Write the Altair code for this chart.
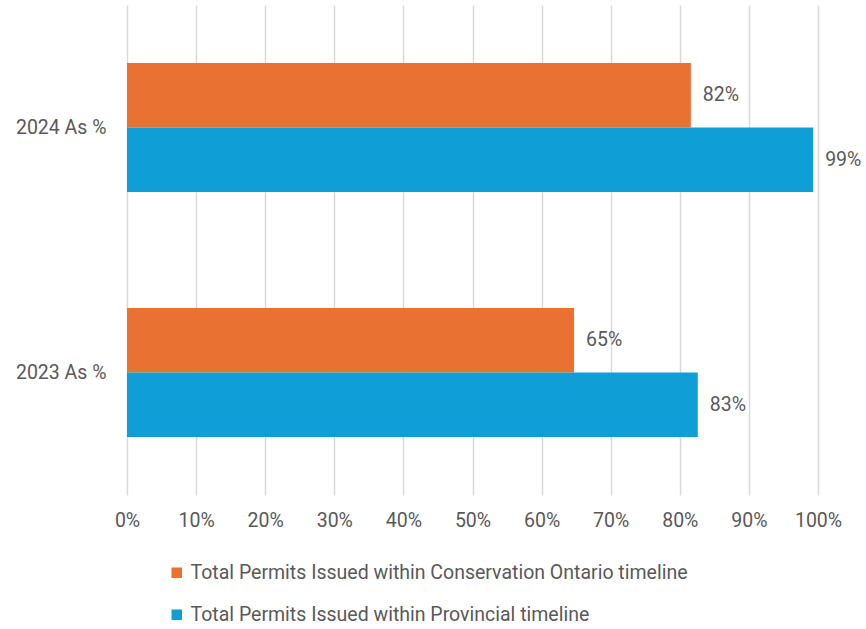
import altair as alt
import pandas as pd

categories = ["2024 As %", "2023 As %"]
series = [
    "Total Permits Issued within Conservation Ontario timeline",
    "Total Permits Issued within Provincial timeline",
]
conservation = [0.816, 0.647]
provincial = [0.993, 0.826]
colors = ["#E97132", "#0F9ED5"]
tick_values = [0.0, 0.1, 0.2, 0.3, 0.4, 0.5, 0.6, 0.7, 0.8, 0.9, 1.0]

rows = []
for i, c in enumerate(categories):
    rows.append({"cat": c, "series": series[0], "value": conservation[i]})
    rows.append({"cat": c, "series": series[1], "value": provincial[i]})
df = pd.DataFrame(rows)

font = "Roboto"
grey = "#595959"
fs = 19.5

y = alt.Y(
    "cat:N",
    sort=categories,
    scale=alt.Scale(paddingInner=0.473, paddingOuter=0.2365),
    axis=alt.Axis(title=None, labelFontSize=fs, labelColor=grey, labelPadding=21,
                  ticks=False, domain=False, grid=False, labelFont=font),
)
yoff = alt.YOffset("series:N", sort=series, scale=alt.Scale(paddingInner=0, paddingOuter=0))
x = alt.X(
    "value:Q",
    scale=alt.Scale(domain=[0, 1], nice=False),
    axis=alt.Axis(values=tick_values, format=".0%", title=None, grid=True,
                  gridColor="#d9d9d9", gridWidth=1.5, domain=False, ticks=False,
                  labelFlush=False, labelBound=False, labelOverlap=False,
                  labelFontSize=fs, labelColor=grey, labelPadding=16, labelFont=font),
)

bars = alt.Chart(df).mark_bar().encode(
    x=x,
    y=y,
    yOffset=yoff,
    color=alt.Color(
        "series:N",
        sort=series,
        scale=alt.Scale(domain=series, range=colors),
        legend=alt.Legend(orient="none", legendX=40, legendY=558, direction="vertical",
                          title=None, symbolType="square", symbolSize=110,
                          labelFontSize=fs, labelColor=grey, labelFont=font,
                          rowPadding=21, labelOffset=4, symbolStrokeWidth=0,
                          labelLimit=0),
    ),
)

labels = alt.Chart(df).mark_text(
    align="left", baseline="middle", dx=12, fontSize=fs, color=grey, font=font
).encode(
    x=alt.X("value:Q"),
    y=alt.Y("cat:N", sort=categories),
    yOffset=alt.YOffset("series:N", sort=series),
    text=alt.Text("value:Q", format=".0%"),
)

chart = (
    alt.layer(bars, labels)
    .properties(width=691, height=490,
                autosize=alt.AutoSizeParams(type="none"),
                padding={"left": 127, "top": 5, "right": 48, "bottom": 134},
                background="white")
    .configure_view(stroke=None)
)

chart.save("out.html", embed_options={"renderer": "svg", "actions": False})
